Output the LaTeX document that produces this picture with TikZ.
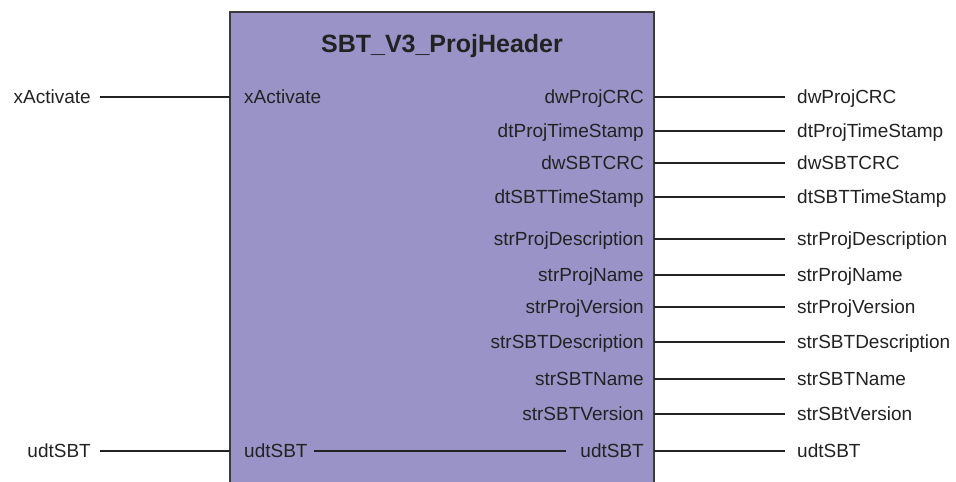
\documentclass[tikz,border=0pt]{standalone}
\usepackage{fontspec}
\setmainfont{Liberation Sans}
\definecolor{blockfill}{HTML}{9A93C7}
\definecolor{ink}{HTML}{222222}
\definecolor{edge}{HTML}{3A3A3A}
\begin{document}
\begin{tikzpicture}[x=1pt,y=-1pt,
  lbl/.style={inner ysep=0pt,text height=13.6pt,text depth=0pt,text=ink,font=\fontsize{19}{22}\selectfont},
  outL/.style={lbl,anchor=east,inner xsep=9pt},
  inL/.style={lbl,anchor=west,inner xsep=14pt},
  inR/.style={lbl,anchor=east,inner xsep=10pt},
  outR/.style={lbl,anchor=west,inner xsep=12pt},
  wire/.style={draw=ink,line width=1.2pt},
  title/.style={anchor=base,inner sep=0pt,text=ink,font=\fontsize{25}{28}\selectfont\bfseries}]
\useasboundingbox (0,0) rectangle (956,482);
% block
\fill[blockfill] (230,12) rectangle (654,490);
\draw[edge,line width=1.4pt] (230,490) -- (230,12) -- (654,12) -- (654,490);
\node[title] (t) at (442,52) {SBT\_V3\_ProjHeader};
% inputs
\node[outL] (xa) at (100,97) {xActivate};
\node[inL] (ixa) at (230,97) {xActivate};
\draw[wire] (xa.east) -- (ixa.west);
\node[outL] (ud) at (100,451) {udtSBT};
\node[inL] (iud) at (230,451) {udtSBT};
\draw[wire] (ud.east) -- (iud.west);
% outputs
\foreach \n/\y/\a/\b in {
  o1/97/dwProjCRC/dwProjCRC,
  o2/131/dtProjTimeStamp/dtProjTimeStamp,
  o3/163/dwSBTCRC/dwSBTCRC,
  o4/197/dtSBTTimeStamp/dtSBTTimeStamp,
  o5/239/strProjDescription/strProjDescription,
  o6/275/strProjName/strProjName,
  o7/307/strProjVersion/strProjVersion,
  o8/342/strSBTDescription/strSBTDescription,
  o9/379/strSBTName/strSBTName,
  o10/414/strSBTVersion/strSBtVersion,
  o11/451/udtSBT/udtSBT}{
  \node[inR] (i\n) at (654,\y) {\a};
  \node[outR] (e\n) at (785,\y) {\b};
  \draw[wire] (i\n.east) -- (e\n.west);
}
\draw[wire] ([xshift=-8pt]iud.east) -- ([xshift=-4pt]io11.west);
\end{tikzpicture}
\end{document}
